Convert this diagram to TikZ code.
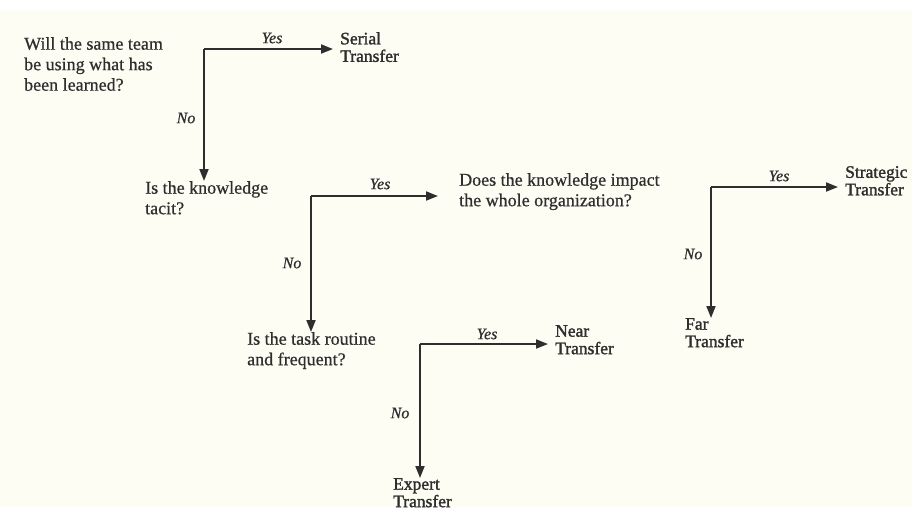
\documentclass[tikz,border=0pt]{standalone}
\usepackage{fontspec}
\setmainfont{Liberation Serif}[FakeBold=0.6]
\newfontfamily\outcomefont{Liberation Serif}[FakeBold=1.6]
\usetikzlibrary{arrows.meta}
\definecolor{paper}{HTML}{FDFDF3}
\definecolor{ink}{HTML}{2E2E2E}
\tikzset{
  question/.style={anchor=north west, align=left, inner xsep=0pt, inner ysep=0pt,
    text=ink, font=\fontsize{18}{20.5}\selectfont},
  outcome/.style={anchor=north west, align=left, inner xsep=7pt, inner ysep=0pt,
    text=ink, font=\outcomefont\fontsize{17.5}{17.5}\selectfont},
  flow/.style={draw=ink, line width=1.8pt, -{Triangle[length=12pt,width=9pt]}},
  answer/.style={text=ink, font=\fontsize{16}{18}\selectfont\itshape, inner sep=0pt}
}
\begin{document}
\begin{tikzpicture}[x=1pt, y=-1pt]
  % paper
  \fill[paper] (0,0) rectangle (912,507);
  \fill[white] (0,0) rectangle (912,10);
  \useasboundingbox (0,0) rectangle (912,507);

  % questions
  \node[question] (q1) at (24,37) {Will the same team\\be using what has\\been learned?};
  \node[question] (q2) at (145,181) {Is the knowledge\\tacit?};
  \node[question] (q3) at (459,173) {Does the knowledge impact\\the whole organization?};
  \node[question] (q4) at (247,332) {Is the task routine\\and frequent?};

  % outcomes
  \node[outcome] (serial) at (333,32) {Serial\\Transfer};
  \node[outcome] (strategic) at (838,166) {Strategic\\Transfer};
  \node[outcome] (far) at (678,318) {Far\\Transfer};
  \node[outcome] (near) at (548,325) {Near\\Transfer};
  \node[outcome] (expert) at (386,478) {Expert\\Transfer};

  % branch corners
  \coordinate (b1) at (204,49);
  \coordinate (b2) at (311,196);
  \coordinate (b3) at (711,187);
  \coordinate (b4) at (420,344);

  % yes / no branches
  \draw[flow] (b1) -- (b1 -| serial.west);
  \draw[flow] (b1) -- (b1 |- q2.north);
  \draw[flow, shorten >=21pt] (b2) -- (b2 -| q3.west);
  \draw[flow] (b2) -- (b2 |- q4.north);
  \draw[flow] (b3) -- (b3 -| strategic.west);
  \draw[flow] (b3) -- (b3 |- far.north);
  \draw[flow] (b4) -- (b4 -| near.west);
  \draw[flow] (b4) -- (b4 |- expert.north);

  % answer labels
  \node[answer] (y1) at (272,38) {Yes};
  \node[answer] (n1) at (186,118) {No};
  \node[answer] (y2) at (380,184) {Yes};
  \node[answer] (n2) at (292,263) {No};
  \node[answer] (y3) at (779,176) {Yes};
  \node[answer] (n3) at (693,254) {No};
  \node[answer] (y4) at (487,334) {Yes};
  \node[answer] (n4) at (400,413) {No};
\end{tikzpicture}
\end{document}
